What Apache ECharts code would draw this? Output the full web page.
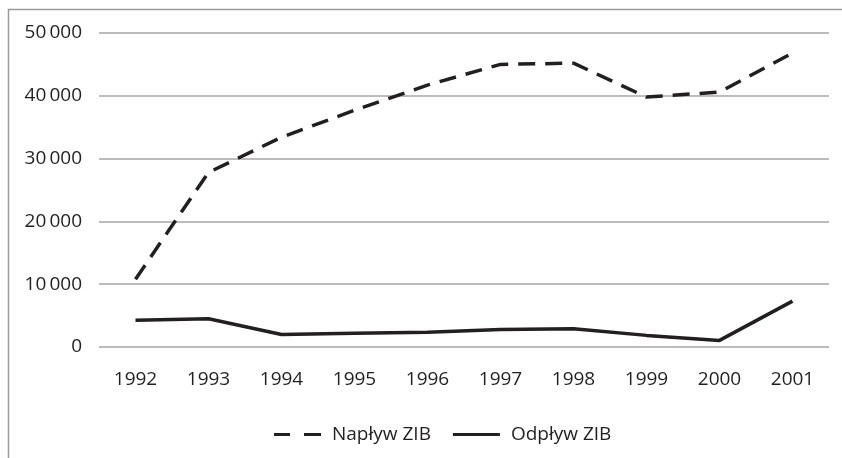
<!DOCTYPE html>
<html>
<head>
<meta charset="utf-8">
<script src="https://cdn.jsdelivr.net/npm/echarts@6/dist/echarts.min.js"></script>
<style>
  html, body { margin: 0; padding: 0; background: #fff; }
  #chart { width: 842px; height: 458px; }
</style>
</head>
<body>
<div id="chart"></div>
<script>
// lata
const years = ['1992', '1993', '1994', '1995', '1996', '1997', '1998', '1999', '2000', '2001'];
// Napływ ZIB
const inflow = [10800, 27800, 33400, 37700, 41700, 45000, 45200, 39800, 40600, 46800];
// Odpływ ZIB
const outflow = [4250, 4500, 2000, 2200, 2350, 2800, 2900, 1850, 1050, 7300];
const yTicks = [0, 10000, 20000, 30000, 40000, 50000];

const chart = echarts.init(document.getElementById('chart'));
const font = 'Open Sans';

const option = {
  animation: false,
  textStyle: { fontFamily: font },
  graphic: [{
    type: 'polyline',
    shape: { points: [[8.5, 470], [8.5, 9.5], [860, 9.5]] },
    style: { stroke: '#9a9a9a', lineWidth: 1.5, fill: null }
  }],
  grid: { left: 99, right: 13, top: 33, bottom: 111 },
  legend: {
    top: 420,
    left: 269,
    itemWidth: 47,
    itemHeight: 10,
    itemGap: 22,
    textStyle: { fontSize: 19, color: '#231f20', fontFamily: font, padding: [0, 0, 0, 6] },
    data: [
      { name: 'Napływ ZIB', icon: 'path://M0,4 L16,4 L16,7 L0,7 Z M30,4 L47,4 L47,7 L30,7 Z' },
      { name: 'Odpływ ZIB', icon: 'path://M0,4 L47,4 L47,7 L0,7 Z' }
    ]
  },
  xAxis: {
    type: 'category',
    data: years,
    boundaryGap: true,
    axisLine: { show: false },
    axisTick: { show: false },
    axisLabel: { fontSize: 19, color: '#231f20', margin: 23 }
  },
  yAxis: {
    type: 'value',
    min: 0,
    max: 50000,
    interval: 10000,
    axisLine: { show: false },
    axisTick: { show: false },
    splitLine: { lineStyle: { color: '#a6a6a6', width: 1.5 } },
    axisLabel: {
      fontSize: 19,
      color: '#231f20',
      margin: 17,
      formatter: v => yTicks.includes(v) ? String(v).replace(/\B(?=(\d{3})+(?!\d))/g, '\u2009') : ''
    }
  },
  series: [
    {
      name: 'Napływ ZIB',
      type: 'line',
      data: inflow,
      symbol: 'none',
      itemStyle: { color: '#231f20' },
      lineStyle: { color: '#231f20', width: 3.5, type: [17, 10] }
    },
    {
      name: 'Odpływ ZIB',
      type: 'line',
      data: outflow,
      symbol: 'none',
      itemStyle: { color: '#231f20' },
      lineStyle: { color: '#231f20', width: 3.5 }
    }
  ]
};

chart.setOption(option);
</script>
</body>
</html>
